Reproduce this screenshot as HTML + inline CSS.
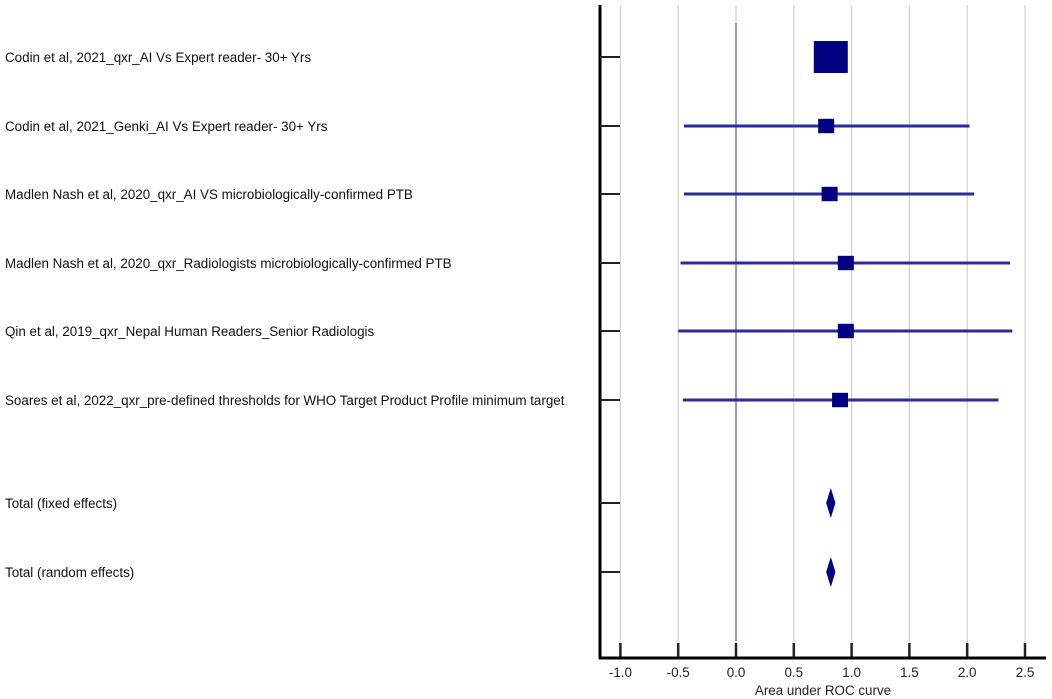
<!DOCTYPE html>
<html><head><meta charset="utf-8"><style>
body{margin:0;background:#fff;}
svg{display:block;font-family:"Liberation Sans",Arial,sans-serif;}
</style></head><body>
<svg id="chart" width="1052" height="699" viewBox="0 0 1052 699" xmlns="http://www.w3.org/2000/svg"></svg>
<script>
const labels=["Codin et al, 2021_qxr_AI Vs Expert reader- 30+ Yrs","Codin et al, 2021_Genki_AI Vs Expert reader- 30+ Yrs","Madlen Nash et al, 2020_qxr_AI VS microbiologically-confirmed PTB","Madlen Nash et al, 2020_qxr_Radiologists microbiologically-confirmed PTB","Qin et al, 2019_qxr_Nepal Human Readers_Senior Radiologis","Soares et al, 2022_qxr_pre-defined thresholds for WHO Target Product Profile minimum target"];
const est=[0.82,0.78,0.81,0.95,0.95,0.90];
const lo=[0.80,-0.45,-0.45,-0.48,-0.50,-0.46];
const hi=[0.84,2.02,2.06,2.37,2.39,2.27];
const weight=[34,16,16,16,16,16];
const totalLabels=["Total (fixed effects)","Total (random effects)"];
const totalEst=[0.82,0.82];
const totalLo=[0.78,0.78];
const totalHi=[0.86,0.86];
const ticks=[-1.0,-0.5,0.0,0.5,1.0,1.5,2.0,2.5];
const rowY=[57,126,194,263,331,400,503,572];
const NS="http://www.w3.org/2000/svg";
const svg=document.getElementById('chart');
const X=v=>736+(v-0)*115.6;
function mk(t,a,p){const e=document.createElementNS(NS,t);for(const k in a)e.setAttribute(k,a[k]);(p||svg).appendChild(e);return e;}
ticks.forEach((t,i)=>{
 const g=mk('line',{x1:X(t),x2:X(t),y1:5,y2:643,stroke:'#d4d4d8','stroke-width':1.3});
 
 
 const tk=mk('line',{x1:X(t),x2:X(t),y1:643,y2:658,stroke:'#222','stroke-width':2.5});
 
 
 const tl=mk('text',{x:X(t),y:677,'text-anchor':'middle','font-size':13.4,fill:'#222'});
 tl.textContent=t.toFixed(1);
 
 
});
const ref=mk('line',{x1:X(0),x2:X(0),y1:23,y2:641,stroke:'#7c7cb0','stroke-width':1.5});


const ax=mk('line',{x1:600,x2:600,y1:5,y2:659,stroke:'#000','stroke-width':3});


const xa=mk('line',{x1:599,x2:1046,y1:658,y2:658,stroke:'#000','stroke-width':3});


const xt=mk('text',{x:823,y:695,'text-anchor':'middle','font-size':13.4,fill:'#222'});
xt.textContent='Area under ROC curve';


const allLabels=labels.concat(totalLabels);
allLabels.forEach((l,i)=>{
 const y=rowY[i];
 const t=mk('line',{x1:600,x2:620,y1:y,y2:y,stroke:'#222','stroke-width':2});
 
 
 const tx=mk('text',{x:5,y:y+5,'font-size':13.4,fill:'#111'});
 tx.textContent=l;
 
 
});
labels.forEach((l,i)=>{
 const y=rowY[i];
 const ci=mk('line',{x1:X(lo[i]),x2:X(hi[i]),y1:y,y2:y,stroke:'#2b2b9a','stroke-width':3});
 
 
 const s=weight[i];
 const r=mk('rect',{x:X(est[i])-s/2,y:y-s/2*(i===0?0.94:0.9),width:s,height:s*(i===0?0.94:0.9),fill:'#000080'});
 
 
});
totalEst.forEach((v,i)=>{
 const y=rowY[6+i];
 const d=mk('polygon',{points:`${X(totalLo[i])},${y} ${X(v)},${y-15} ${X(totalHi[i])},${y} ${X(v)},${y+15}`,fill:'#000080'});
 
 
});
</script>
</body></html>
